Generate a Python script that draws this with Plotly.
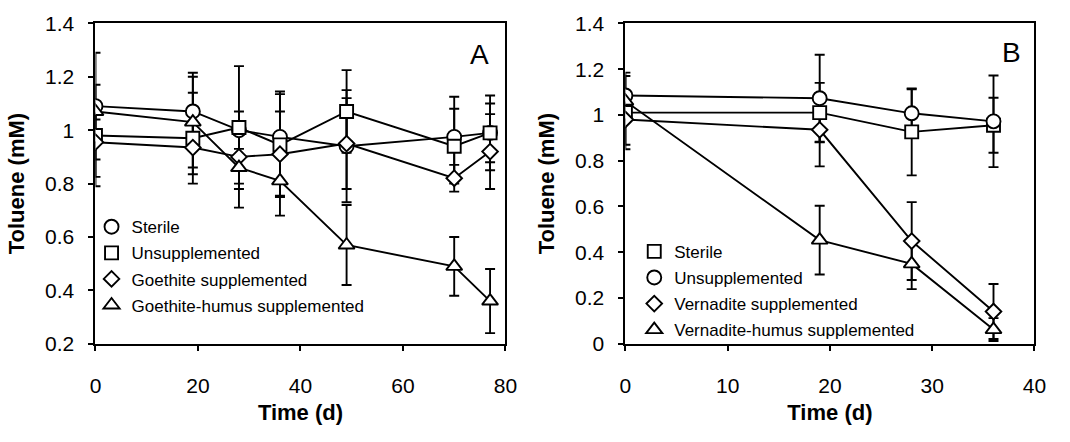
import plotly.graph_objects as go

# Panel A: goethite incubations
days_a = [0, 19, 28, 36, 49, 70, 77]
sterile_a = [1.09, 1.07, 1.00, 0.975, 0.94, 0.975, 0.99]
sterile_a_err = [0.20, 0.145, 0.07, 0.17, 0.21, 0.15, 0.14]
unsup_a = [0.98, 0.97, 1.01, 0.945, 1.07, 0.94, 0.99]
unsup_a_err = [0.19, 0.17, 0.23, 0.19, 0.155, 0.14, 0.11]
goethite_a = [0.955, 0.935, 0.90, 0.91, 0.95, 0.82, 0.92]
goethite_a_err = [0.13, 0.10, 0.10, 0.16, 0.17, 0.05, 0.14]
ghumus_a = [1.07, 1.03, 0.86, 0.81, 0.57, 0.49, 0.36]
ghumus_a_err = [0.03, 0.17, 0.15, 0.13, 0.15, 0.11, 0.12]

# Panel B: vernadite incubations
days_b = [0, 19, 28, 36]
sterile_b = [1.01, 1.01, 0.926, 0.955]
sterile_b_err = [0.16, 0.13, 0.19, 0.12]
unsup_b = [1.085, 1.073, 1.007, 0.972]
unsup_b_err = [0.10, 0.19, 0.105, 0.20]
vern_b = [0.98, 0.935, 0.449, 0.141]
vern_b_err = [0.11, 0.16, 0.17, 0.12]
vhumus_b = [1.06, 0.453, 0.349, 0.062]
vhumus_b_err = [0.02, 0.15, 0.11, 0.05]

ticks_a_y = [0.2, 0.4, 0.6, 0.8, 1.0, 1.2, 1.4]
ticks_a_ylab = ["0.2", "0.4", "0.6", "0.8", "1", "1.2", "1.4"]
ticks_b_y = [0, 0.2, 0.4, 0.6, 0.8, 1.0, 1.2, 1.4]
ticks_b_ylab = ["0", "0.2", "0.4", "0.6", "0.8", "1", "1.2", "1.4"]
ticks_a_x = [0, 20, 40, 60, 80]
ticks_b_x = [0, 10, 20, 30, 40]

FONT = "Liberation Sans, Arial, sans-serif"
SIZES = {"circle": 14, "square": 13, "diamond": 12, "triangle-up": 14}

series_a = [
    ("Sterile", "circle", sterile_a, sterile_a_err),
    ("Unsupplemented", "square", unsup_a, unsup_a_err),
    ("Goethite supplemented", "diamond", goethite_a, goethite_a_err),
    ("Goethite-humus supplemented", "triangle-up", ghumus_a, ghumus_a_err),
]
series_b = [
    ("Sterile", "square", sterile_b, sterile_b_err),
    ("Unsupplemented", "circle", unsup_b, unsup_b_err),
    ("Vernadite supplemented", "diamond", vern_b, vern_b_err),
    ("Vernadite-humus supplemented", "triangle-up", vhumus_b, vhumus_b_err),
]

fig = go.Figure()


def add_panel(days, series, xa, ya, legend_id):
    # connecting lines and error bars underneath
    for name, sym, vals, err in series:
        fig.add_trace(go.Scatter(
            x=days, y=vals, mode="lines", xaxis=xa, yaxis=ya,
            line=dict(color="black", width=1.9),
            error_y=dict(type="data", array=err, visible=True,
                         color="black", thickness=1.9, width=5),
            showlegend=False, hoverinfo="skip"))
    # open markers on top
    for name, sym, vals, err in series:
        fig.add_trace(go.Scatter(
            x=days, y=vals, mode="markers", xaxis=xa, yaxis=ya, name=name,
            marker=dict(symbol=sym, size=SIZES[sym], color="white",
                        line=dict(color="black", width=1.9)),
            showlegend=False))
    # legend entries (marker only)
    for i, (name, sym, vals, err) in enumerate(series):
        fig.add_trace(go.Scatter(
            x=[None], y=[None], mode="markers", xaxis=xa, yaxis=ya, name=name,
            legend=legend_id, legendgroup=f"{legend_id}{i}",
            marker=dict(symbol=sym, size=SIZES[sym], color="white",
                        line=dict(color="black", width=1.9))))


add_panel(days_a, series_a, "x", "y", "legend")
add_panel(days_b, series_b, "x2", "y2", "legend2")

axis_common = dict(showline=True, linecolor="black", linewidth=2, mirror=True,
                   ticks="outside", tickcolor="black", tickwidth=1.5, ticklen=5,
                   showgrid=False, zeroline=False,
                   tickfont=dict(family=FONT, size=21, color="black"))
title_font = dict(family=FONT, size=22, color="black", weight="bold")

y_top = 1 - 12 / 442
y_bot = 1 - 350 / 442

fig.update_layout(
    width=1070, height=442, margin=dict(l=0, r=0, t=0, b=0),
    paper_bgcolor="white", plot_bgcolor="white",
    xaxis=dict(domain=[91 / 1070, 508 / 1070], range=[0, 80], anchor="y",
               tickvals=ticks_a_x, ticklabelstandoff=17,
               title=dict(text="Time (d)", font=title_font, standoff=9),
               **axis_common),
    yaxis=dict(domain=[y_bot, y_top], range=[0.2, 1.4], anchor="x",
               tickvals=ticks_a_y, ticktext=ticks_a_ylab, ticklabelstandoff=10,
               title=dict(text="Toluene (mM)", font=title_font, standoff=14),
               **axis_common),
    xaxis2=dict(domain=[630 / 1070, 1046 / 1070], range=[0, 40], anchor="y2",
                tickvals=ticks_b_x, ticklabelstandoff=17,
                title=dict(text="Time (d)", font=title_font, standoff=9),
                **axis_common),
    yaxis2=dict(domain=[y_bot, y_top], range=[0, 1.4], anchor="x2",
                tickvals=ticks_b_y, ticktext=ticks_b_ylab, ticklabelstandoff=10,
                title=dict(text="Toluene (mM)", font=title_font, standoff=14),
                **axis_common),
    legend=dict(x=87 / 1070, y=1 - 208 / 442, xanchor="left", yanchor="top",
                bgcolor="rgba(0,0,0,0)", tracegroupgap=1,
                font=dict(family=FONT, size=17, color="black")),
    legend2=dict(x=639 / 1070, y=1 - 234 / 442, xanchor="left", yanchor="top",
                 bgcolor="rgba(0,0,0,0)", tracegroupgap=1,
                 font=dict(family=FONT, size=17, color="black")),
    annotations=[
        dict(text="A", x=482 / 1070, y=1 - 45 / 442, xref="paper", yref="paper",
             xanchor="center", yanchor="middle", showarrow=False,
             font=dict(family=FONT, size=28, color="black")),
        dict(text="B", x=1023 / 1070, y=1 - 43 / 442, xref="paper", yref="paper",
             xanchor="center", yanchor="middle", showarrow=False,
             font=dict(family=FONT, size=28, color="black")),
    ],
)

fig.write_html("out.html")
